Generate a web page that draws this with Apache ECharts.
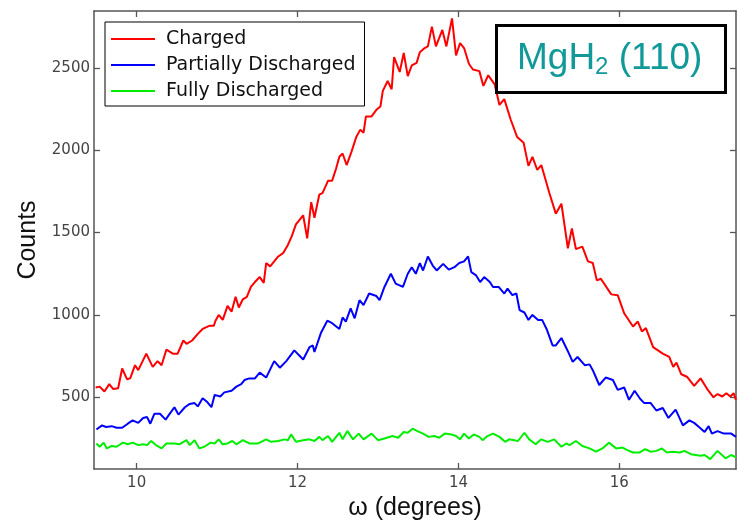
<!DOCTYPE html>
<html>
<head>
<meta charset="utf-8">
<script src="https://cdn.jsdelivr.net/npm/echarts@6/dist/echarts.min.js"></script>
<style>
  html, body { margin: 0; padding: 0; background: #fff; }
  #chart { width: 737px; height: 521px; }
</style>
</head>
<body>
<div id="chart"></div>
<script>
// Rocking-curve scans of the MgH2 (110) reflection for three charge states.

const omegaCharged = [9.49, 9.54, 9.60, 9.66, 9.71, 9.77, 9.82, 9.88, 9.92, 9.98, 10.02, 10.12, 10.20, 10.26, 10.31, 10.37, 10.45, 10.51, 10.58, 10.62, 10.69, 10.76, 10.82, 10.91, 10.96, 10.98, 11.02, 11.07, 11.13, 11.18, 11.23, 11.27, 11.32, 11.37, 11.42, 11.47, 11.53, 11.58, 11.61, 11.66, 11.76, 11.82, 11.88, 11.93, 11.98, 12.07, 12.12, 12.17, 12.21, 12.27, 12.31, 12.38, 12.43, 12.48, 12.52, 12.56, 12.61, 12.67, 12.73, 12.78, 12.82, 12.85, 12.92, 12.98, 13.03, 13.06, 13.12, 13.17, 13.20, 13.27, 13.32, 13.37, 13.42, 13.48, 13.52, 13.58, 13.62, 13.67, 13.72, 13.80, 13.85, 13.92, 13.97, 14.02, 14.07, 14.13, 14.18, 14.26, 14.31, 14.37, 14.45, 14.51, 14.57, 14.65, 14.73, 14.81, 14.87, 14.92, 14.98, 15.03, 15.13, 15.21, 15.28, 15.36, 15.41, 15.46, 15.54, 15.61, 15.67, 15.72, 15.77, 15.90, 15.98, 16.06, 16.17, 16.23, 16.28, 16.33, 16.42, 16.54, 16.62, 16.67, 16.71, 16.77, 16.84, 16.93, 17.01, 17.10, 17.17, 17.22, 17.28, 17.33, 17.38, 17.42, 17.45];
const countsCharged = [560, 565, 535, 580, 550, 555, 675, 610, 615, 695, 665, 765, 685, 720, 695, 790, 765, 765, 845, 825, 845, 885, 915, 935, 935, 965, 1000, 970, 1055, 1020, 1110, 1045, 1095, 1110, 1170, 1200, 1230, 1195, 1315, 1295, 1355, 1375, 1425, 1480, 1550, 1605, 1465, 1685, 1590, 1730, 1740, 1815, 1815, 1890, 1960, 1980, 1910, 1990, 2080, 2125, 2105, 2205, 2205, 2245, 2265, 2360, 2420, 2370, 2565, 2475, 2590, 2450, 2515, 2530, 2595, 2620, 2630, 2750, 2630, 2730, 2630, 2800, 2575, 2650, 2620, 2525, 2490, 2480, 2390, 2455, 2400, 2275, 2310, 2185, 2080, 2045, 1905, 1960, 1880, 1910, 1740, 1615, 1675, 1405, 1525, 1400, 1415, 1325, 1315, 1210, 1220, 1125, 1120, 1010, 930, 960, 900, 920, 805, 765, 745, 685, 710, 640, 625, 570, 615, 545, 500, 520, 505, 525, 505, 525, 485];

const omegaPartial = [9.50, 9.57, 9.62, 9.69, 9.75, 9.82, 9.89, 9.95, 10.02, 10.08, 10.13, 10.17, 10.22, 10.29, 10.36, 10.41, 10.47, 10.52, 10.60, 10.66, 10.72, 10.76, 10.82, 10.87, 10.93, 10.97, 11.04, 11.09, 11.18, 11.24, 11.30, 11.34, 11.40, 11.47, 11.53, 11.61, 11.71, 11.78, 11.86, 11.96, 12.07, 12.15, 12.19, 12.21, 12.29, 12.37, 12.43, 12.52, 12.56, 12.60, 12.66, 12.71, 12.77, 12.82, 12.89, 12.98, 13.02, 13.08, 13.16, 13.22, 13.31, 13.37, 13.42, 13.47, 13.52, 13.56, 13.62, 13.68, 13.73, 13.81, 13.88, 13.95, 14.01, 14.07, 14.12, 14.16, 14.22, 14.27, 14.32, 14.39, 14.43, 14.50, 14.57, 14.61, 14.67, 14.72, 14.76, 14.82, 14.87, 14.92, 14.99, 15.04, 15.10, 15.17, 15.21, 15.28, 15.33, 15.37, 15.42, 15.48, 15.57, 15.63, 15.67, 15.75, 15.83, 15.92, 15.98, 16.06, 16.12, 16.19, 16.26, 16.31, 16.39, 16.46, 16.54, 16.61, 16.70, 16.79, 16.87, 16.93, 16.99, 17.06, 17.11, 17.15, 17.22, 17.30, 17.39, 17.45];
const countsPartial = [305, 330, 320, 325, 315, 315, 340, 360, 345, 375, 380, 340, 400, 400, 365, 400, 440, 395, 440, 460, 465, 445, 495, 475, 440, 515, 505, 530, 540, 565, 580, 605, 615, 615, 650, 620, 720, 680, 720, 785, 730, 805, 815, 775, 890, 965, 950, 915, 985, 960, 1040, 980, 1090, 1060, 1130, 1115, 1090, 1170, 1250, 1190, 1170, 1250, 1290, 1250, 1315, 1270, 1355, 1300, 1270, 1310, 1275, 1290, 1315, 1325, 1355, 1260, 1240, 1200, 1230, 1200, 1170, 1170, 1130, 1160, 1120, 1130, 1030, 1015, 970, 1000, 970, 970, 910, 815, 815, 860, 810, 770, 715, 745, 695, 700, 665, 575, 620, 605, 545, 560, 485, 540, 490, 465, 465, 420, 435, 375, 425, 330, 360, 345, 320, 290, 325, 280, 295, 280, 280, 260];

const omegaFull = [9.50, 9.54, 9.59, 9.63, 9.69, 9.75, 9.83, 9.89, 9.95, 10.02, 10.08, 10.13, 10.18, 10.24, 10.31, 10.37, 10.47, 10.53, 10.62, 10.66, 10.72, 10.78, 10.84, 10.92, 10.97, 11.02, 11.07, 11.13, 11.19, 11.24, 11.32, 11.40, 11.42, 11.51, 11.61, 11.67, 11.76, 11.84, 11.88, 11.92, 11.98, 12.07, 12.15, 12.21, 12.27, 12.31, 12.38, 12.43, 12.52, 12.56, 12.62, 12.69, 12.76, 12.82, 12.92, 13.00, 13.08, 13.18, 13.25, 13.32, 13.37, 13.43, 13.49, 13.56, 13.63, 13.70, 13.76, 13.83, 13.91, 13.97, 14.02, 14.07, 14.13, 14.19, 14.26, 14.30, 14.36, 14.43, 14.51, 14.58, 14.63, 14.74, 14.82, 14.88, 14.96, 15.03, 15.11, 15.19, 15.28, 15.34, 15.38, 15.46, 15.54, 15.63, 15.71, 15.79, 15.87, 15.96, 16.04, 16.10, 16.17, 16.25, 16.32, 16.39, 16.46, 16.53, 16.59, 16.66, 16.75, 16.81, 16.89, 16.95, 17.01, 17.06, 17.13, 17.22, 17.32, 17.39, 17.45];
const countsFull = [220, 200, 225, 190, 205, 200, 225, 215, 225, 210, 215, 210, 235, 210, 190, 220, 220, 215, 240, 210, 240, 190, 200, 225, 220, 245, 215, 220, 235, 215, 240, 220, 230, 220, 245, 230, 235, 245, 240, 275, 230, 240, 245, 235, 260, 240, 265, 230, 285, 245, 295, 245, 280, 245, 280, 240, 250, 265, 255, 290, 285, 310, 295, 280, 260, 265, 255, 280, 275, 265, 245, 280, 250, 275, 260, 240, 265, 280, 260, 230, 245, 235, 285, 245, 215, 245, 230, 245, 200, 220, 210, 235, 205, 190, 170, 190, 225, 190, 195, 180, 165, 165, 185, 170, 175, 190, 165, 170, 165, 175, 155, 150, 145, 150, 125, 175, 130, 150, 135];

const omegaTicks = [10, 12, 14, 16];
const countTicks = [500, 1000, 1500, 2000, 2500];

const seriesNames = ['Charged', 'Partially Discharged', 'Fully Discharged'];
const seriesColors = ['#ff0000', '#0000ff', '#00ee00'];

function pairs(xs, ys) {
  return xs.map((x, i) => [x, ys[i]]);
}

const frameColor = '#555555';
const xRange = { min: 9.47, max: 17.45 };
const yRange = { min: 65, max: 2845 };

const tickStyle = { show: true, inside: true, length: 6, lineStyle: { color: frameColor, width: 1.3 } };
const plainNumber = (v) => String(Math.round(v));

const chart = echarts.init(document.getElementById('chart'), null, { renderer: 'canvas' });

chart.setOption({
  animation: false,
  backgroundColor: '#ffffff',
  grid: { left: 94, top: 11, right: 1, bottom: 52, containLabel: false, outerBoundsMode: 'none' },
  xAxis: [
    {
      type: 'value', position: 'bottom', min: xRange.min, max: xRange.max,
      name: 'ω (degrees)', nameLocation: 'middle', nameGap: 27,
      nameTextStyle: { fontFamily: 'Liberation Sans', fontSize: 25, color: '#111' },
      axisLine: { show: true, lineStyle: { color: frameColor, width: 1.5 } },
      axisTick: Object.assign({ customValues: omegaTicks }, tickStyle),
      axisLabel: { customValues: omegaTicks, formatter: plainNumber, margin: 7, fontFamily: 'DejaVu Sans', fontSize: 15, color: '#444' },
      splitLine: { show: false }
    },
    {
      type: 'value', position: 'top', min: xRange.min, max: xRange.max,
      axisLine: { show: true, lineStyle: { color: frameColor, width: 1.5 } },
      axisTick: Object.assign({ customValues: omegaTicks }, tickStyle),
      axisLabel: { show: false },
      splitLine: { show: false }
    }
  ],
  yAxis: [
    {
      type: 'value', position: 'left', min: yRange.min, max: yRange.max,
      name: 'Counts', nameLocation: 'middle', nameGap: 53, nameRotate: 90,
      nameTextStyle: { fontFamily: 'Liberation Sans', fontSize: 25, color: '#111' },
      axisLine: { show: true, lineStyle: { color: frameColor, width: 1.5 } },
      axisTick: Object.assign({ customValues: countTicks }, tickStyle),
      axisLabel: { customValues: countTicks, formatter: plainNumber, margin: 4, fontFamily: 'DejaVu Sans', fontSize: 15, color: '#444' },
      splitLine: { show: false }
    },
    {
      type: 'value', position: 'right', min: yRange.min, max: yRange.max,
      axisLine: { show: true, lineStyle: { color: frameColor, width: 1.5 } },
      axisTick: Object.assign({ customValues: countTicks }, tickStyle),
      axisLabel: { show: false },
      splitLine: { show: false }
    }
  ],
  legend: {
    orient: 'vertical', left: 105, top: 22,
    data: seriesNames,
    icon: 'rect', itemWidth: 44, itemHeight: 2, itemGap: 6,
    padding: [7, 9, 5, 6],
    borderColor: '#000', borderWidth: 1, backgroundColor: '#fff',
    textStyle: { fontFamily: 'DejaVu Sans', fontSize: 19, color: '#111', lineHeight: 20, padding: [0, 0, 0, 6] }
  },
  title: {
    text: '{m|MgH}{s|2}{m| (110)}',
    left: 496, top: 26,
    padding: [14, 23, 14, 21],
    borderColor: '#000', borderWidth: 3, backgroundColor: '#fff',
    textStyle: {
      fontWeight: 'normal',
      rich: {
        m: { fontFamily: 'Liberation Sans', fontSize: 37, fontWeight: 'normal', color: '#119999', lineHeight: 38 },
        s: { fontFamily: 'Liberation Sans', fontSize: 24, fontWeight: 'normal', color: '#119999', padding: [16, 0, 0, 0], lineHeight: 38 }
      }
    }
  },
  series: [
    { name: seriesNames[0], data: pairs(omegaCharged, countsCharged) },
    { name: seriesNames[1], data: pairs(omegaPartial, countsPartial) },
    { name: seriesNames[2], data: pairs(omegaFull, countsFull) }
  ].map((s, i) => Object.assign({
    type: 'line', xAxisIndex: 0, yAxisIndex: 0,
    showSymbol: false, symbol: 'none', smooth: false,
    lineStyle: { width: 2, color: seriesColors[i] },
    itemStyle: { color: seriesColors[i] },
    clip: true
  }, s))
});
</script>
</body>
</html>
